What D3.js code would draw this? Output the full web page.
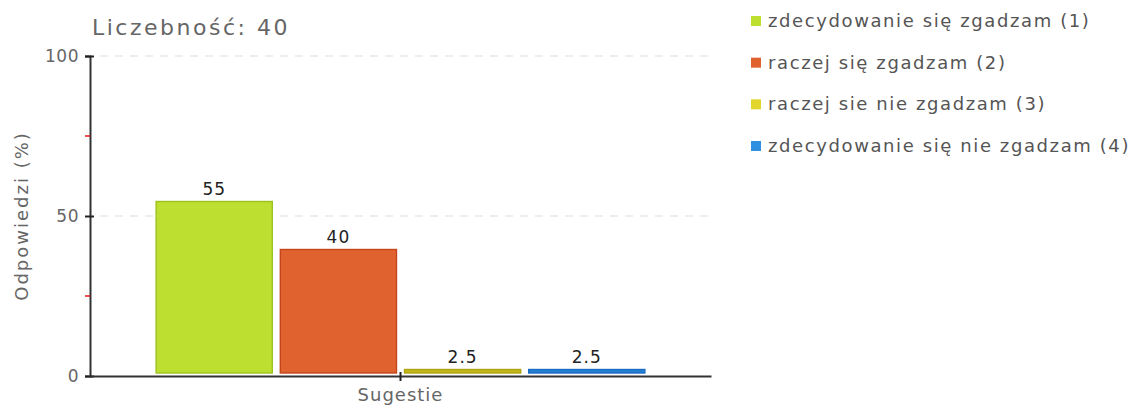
<!DOCTYPE html>
<html>
<head>
<meta charset="utf-8">
<script src="https://cdn.jsdelivr.net/npm/d3@7"></script>
<style>
  html, body { margin: 0; padding: 0; background: #fff; }
  svg { display: block; font-family: "DejaVu Sans", Verdana, sans-serif; }
</style>
</head>
<body>
<svg id="chart" width="1139" height="405"></svg>
<script>
// Survey answers for the "Sugestie" question (percent of respondents)
const categories = ["Sugestie"];
const seriesNames = [
  "zdecydowanie się zgadzam (1)",
  "raczej się zgadzam (2)",
  "raczej sie nie zgadzam (3)",
  "zdecydowanie się nie zgadzam (4)"
];
const seriesValues = [55, 40, 2.5, 2.5];
const yTicks = [0, 50, 100];
const yMinorTicks = [25, 75];
const titleText = "Liczebność: 40";
const yAxisTitle = "Odpowiedzi (%)";

const fills   = ["#bde030", "#e0632f", "#e2d62c", "#2f8fe0"];
const barFills = ["#bde030", "#e0632f", "#c2b81c", "#2480d4"];
const strokes = ["#9dc21e", "#c2461a", "#aea412", "#1a6cc0"];

const svg = d3.select("#chart");
const plotLeft = 90, plotRight = 711, plotTop = 56, plotBottom = 376;

const y = d3.scaleLinear().domain([0, 100]).range([plotBottom, plotTop]);
const x0 = d3.scaleBand().domain(categories).range([plotLeft, plotRight])
  .paddingInner(0).paddingOuter(0.134);
const x1 = d3.scaleBand().domain(d3.range(seriesValues.length))
  .range([0, x0.bandwidth()]).paddingInner(0.0565).paddingOuter(0);

// dashed grid lines
svg.append("g").selectAll("line")
  .data(yTicks.filter(d => d > 0))
  .join("line")
  .attr("x1", plotLeft + 10).attr("x2", plotRight)
  .attr("y1", d => y(d)).attr("y2", d => y(d))
  .attr("stroke", "#dddddd").attr("stroke-width", 1)
  .attr("stroke-dasharray", "8,7");

// bars
const g = svg.append("g").attr("transform", `translate(${x0(categories[0])},0)`);
g.selectAll("rect")
  .data(seriesValues)
  .join("rect")
  .attr("x", (d, i) => x1(i) + 0.5)
  .attr("y", d => y(d) + 1.5)
  .attr("width", x1.bandwidth() - 1)
  .attr("height", d => Math.max(0, y(0) - 3 - (y(d) + 1.5)))
  .attr("fill", (d, i) => barFills[i])
  .attr("stroke", (d, i) => strokes[i])
  .attr("stroke-width", 1.4);

// value labels
g.selectAll("text.val")
  .data(seriesValues)
  .join("text")
  .attr("class", "val")
  .attr("x", (d, i) => x1(i) + x1.bandwidth() / 2)
  .attr("y", d => y(d) - 5)
  .attr("text-anchor", "middle")
  .attr("font-size", 17)
  .attr("letter-spacing", 1)
  .attr("fill", "#222")
  .text(d => d);

// y axis
const yAxis = svg.append("g").attr("transform", `translate(${plotLeft},0)`)
  .call(d3.axisLeft(y).tickValues(yTicks).tickSize(5).tickPadding(6).tickFormat(d3.format("d")));
yAxis.select(".domain").attr("stroke", "#333").attr("stroke-width", 2);
yAxis.selectAll(".tick line").attr("stroke", "#222").attr("stroke-width", 2).attr("x2", 4).attr("x1", -5);
yAxis.selectAll(".tick text").attr("font-size", 17).attr("fill", "#666")
  .attr("font-family", "DejaVu Sans, Verdana, sans-serif").attr("letter-spacing", 0.5);

// minor ticks in red
svg.append("g").selectAll("line")
  .data(yMinorTicks)
  .join("line")
  .attr("x1", plotLeft - 5).attr("x2", plotLeft)
  .attr("y1", d => y(d)).attr("y2", d => y(d))
  .attr("stroke", "#ee1111").attr("stroke-width", 1.5);

// x axis
const xAxis = svg.append("g").attr("transform", `translate(0,${plotBottom})`)
  .call(d3.axisBottom(x0).tickSize(5).tickPadding(4).tickSizeOuter(0));
xAxis.select(".domain").attr("stroke", "#333").attr("stroke-width", 2);
xAxis.selectAll(".tick line").attr("stroke", "#222").attr("stroke-width", 2).attr("y1", -4).attr("y2", 5);
xAxis.selectAll(".tick text").attr("font-size", 18).attr("fill", "#666")
  .attr("font-family", "DejaVu Sans, Verdana, sans-serif").attr("letter-spacing", 1)
  .attr("dy", "0.9em");

// title
svg.append("text")
  .attr("x", 92).attr("y", 35)
  .attr("font-size", 22).attr("letter-spacing", 2.5)
  .attr("fill", "#666")
  .text(titleText);

// y axis title
svg.append("text")
  .attr("transform", `translate(28,${(plotTop + plotBottom) / 2}) rotate(-90)`)
  .attr("text-anchor", "middle")
  .attr("font-size", 18).attr("letter-spacing", 2)
  .attr("fill", "#666")
  .text(yAxisTitle);

// legend
const legendY = d3.scalePoint().domain(d3.range(seriesNames.length)).range([21, 146]);
const lg = svg.append("g").selectAll("g")
  .data(seriesNames)
  .join("g")
  .attr("transform", (d, i) => `translate(751,${legendY(i)})`);
lg.append("rect")
  .attr("x", 0).attr("y", -5).attr("width", 10).attr("height", 10)
  .attr("fill", (d, i) => fills[i]);
lg.append("text")
  .attr("x", 17).attr("y", 6)
  .attr("font-size", 18).attr("letter-spacing", 1.6)
  .attr("fill", "#555")
  .text(d => d);
</script>
</body>
</html>
